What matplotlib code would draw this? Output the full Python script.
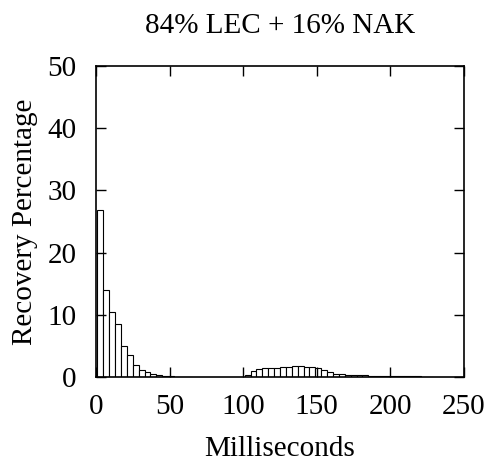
import matplotlib
matplotlib.use('Agg')
import matplotlib.pyplot as plt

# Histogram of recovery times, 4 ms bins
bin_width = 4
early_ms = list(range(3, 64, 4))
early_pct = [26.8, 14.0, 10.5, 8.5, 5.0, 3.5, 2.0, 1.2, 0.8, 0.5,
             0.3, 0.2, 0.12, 0.08, 0.05, 0.03]
late_ms = list(range(103, 228, 4))
late_pct = [0.35, 0.9, 1.25, 1.45, 1.5, 1.5, 1.55, 1.6, 1.7, 1.75,
            1.6, 1.55, 1.5, 1.1, 0.8, 0.55, 0.45, 0.35, 0.3, 0.25,
            0.25, 0.2, 0.2, 0.2, 0.15, 0.15, 0.15, 0.12, 0.1, 0.1,
            0.08, 0.05]

x_ticks = [0, 50, 100, 150, 200, 250]
y_ticks = [0, 10, 20, 30, 40, 50]

plt.rcParams['font.family'] = ['Liberation Serif', 'DejaVu Serif']
plt.rcParams['font.size'] = 21

fig = plt.figure(figsize=(4.93, 4.66), dpi=100)
ax = fig.add_axes([96 / 493, 1 - 377 / 466, (464 - 96) / 493, (377 - 66) / 466])

ax.bar(early_ms + late_ms, early_pct + late_pct, width=bin_width,
       facecolor='white', edgecolor='black', linewidth=0.8)

ax.set_xlim(0, 250)
ax.set_ylim(0, 50)
ax.set_xticks(x_ticks)
ax.set_yticks(y_ticks)
ax.tick_params(direction='in', length=7, width=1.0, top=True, right=True)
ax.tick_params(axis='x', pad=12)
ax.tick_params(axis='y', pad=14)
for s in ax.spines.values():
    s.set_linewidth(1.2)

ax.set_title('84% LEC + 16% NAK', fontsize=21, pad=24)
ax.set_xlabel('Milliseconds', labelpad=12)
ax.set_ylabel('Recovery Percentage', labelpad=7)

fig.savefig('out.png', dpi=100)
